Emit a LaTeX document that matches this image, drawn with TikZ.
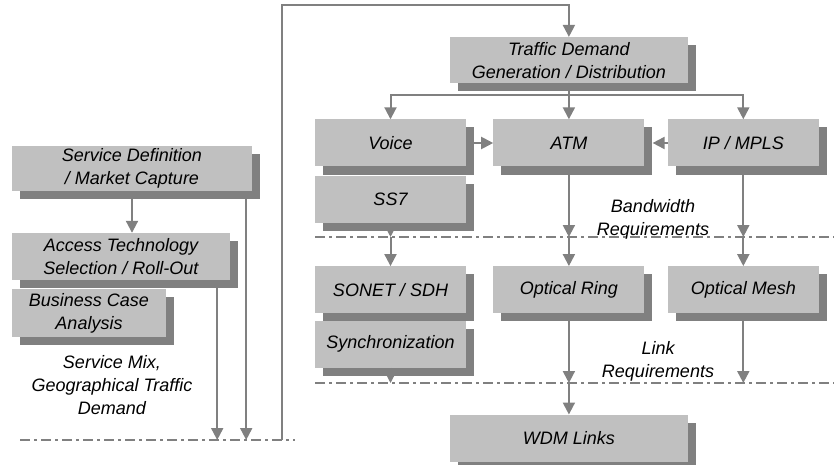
\documentclass[tikz,border=0pt]{standalone}
\usepackage{fontspec}
\setmainfont{Liberation Sans}
\usetikzlibrary{positioning, arrows.meta, shadows}
\definecolor{boxgray}{RGB}{192,192,192}
\definecolor{shadegray}{RGB}{128,128,128}
\definecolor{linegray}{RGB}{128,128,128}
\tikzset{
    >={Triangle[width=12pt, length=12pt]}, % wide flat arrow heads
    node distance=9pt and 27pt, % gaps inside a column / inside a row
    every node/.style={font=\itshape\fontsize{18}{23}\selectfont, align=center}, % all texts
    block/.style={fill=boxgray, minimum width=151pt, minimum height=47pt, inner sep=0pt,
        drop shadow={shadow xshift=8pt, shadow yshift=-8pt, fill=shadegray, opacity=1}}, % grey box with a hard shadow
    flow/.style={->, draw=linegray, line width=2pt}, % the arrows
    level/.style={draw=linegray, line width=1.4pt, dash pattern=on 10pt off 4pt on 3pt off 4pt}, % dash-dot borders
}
\begin{document}
\begin{tikzpicture}[x=1pt, y=-1pt
                  ]
                  \useasboundingbox (0,0) rectangle (834,465);
                  % left side
                  \node[block, minimum width=240pt, minimum height=45pt] (svcdef) at (132,168.5) {Service Definition\\ / Market Capture};
                  \node[block, minimum width=218pt] (access) at (121,256.5) {Access Technology\\ Selection / Roll-Out};
                  \node[block, minimum width=154pt, minimum height=48pt] (business) at (89,313) {Business Case\\ Analysis};
                  \node (mix) at (112,385) {Service Mix,\\ Geographical Traffic\\ Demand};
                  % right side
                  \node[block] (voice) at (390.5,143) {Voice};
                  \node[block, right=of voice] (atm) {ATM};
                  \node[block, right=23pt of atm] (ip) {IP / MPLS};
                  \node[block, below=of voice] (ss7) {SS7};
                  \node[block, above=36pt of atm, minimum width=238pt, minimum height=46pt] (traffic) {Traffic Demand\\ Generation / Distribution};
                  \node[block, below=43pt of ss7] (sonet) {SONET / SDH};
                  \node[block, below=7pt of sonet] (sync) {Synchronization};
                  \node[block, right=of sonet] (ring) {Optical Ring};
                  \node[block, right=23pt of ring] (mesh) {Optical Mesh};
                  \node[block, below=101pt of ring, minimum width=238pt] (wdm) {WDM Links};
                  \node (bwreq) at (653,219) {Bandwidth\\ Requirements};
                  \node (linkreq) at (658,361) {Link\\ Requirements};
                  % dash-dot borders
                  \coordinate (mixL) at (20,440);
                  \coordinate (mixR) at (295,440);
                  \coordinate (bwL) at (315,237);
                  \coordinate (bwR) at (834,237);
                  \coordinate (lkL) at (315,383);
                  \coordinate (lkR) at (834,383);
                  \draw[level] (mixL) -- (mixR);
                  \draw[level] (bwL) -- (bwR);
                  \draw[level] (lkL) -- (lkR);
                  % arrows
                  \coordinate (svcout) at ([xshift=-6pt]svcdef.south east);
                  \coordinate (accout) at ([xshift=-13pt]access.south east);
                  \coordinate (loop) at (282,440);
                  \coordinate (looptop) at (282,5);
                  \coordinate (split) at ([yshift=-12pt]traffic.south);
                  \draw[flow] (svcdef.south) -- (svcdef.south |- access.north);
                  \draw[flow] (svcout) -- (svcout |- mixL);
                  \draw[flow] (accout) -- (accout |- mixL);
                  \draw[flow] (loop) -- (looptop) -| (traffic.north);
                  \draw[flow] (traffic.south) -- (atm.north);
                  \draw[flow] (split) -| (voice.north);
                  \draw[flow] (split) -| (ip.north);
                  \draw[flow, shorten <=8pt] (voice.east) -- (atm.west);
                  \draw[flow, shorten >=8pt] (ip.west) -- (atm.east);
                  \foreach \a/\b in {ss7/sonet, atm/ring, ip/mesh} {
                      \draw[flow] (\a.south) -- (\a.south |- bwL);
                      \draw[flow] (\a.south |- bwL) -- (\b.north);
                  }
                  \foreach \a in {sync, ring, mesh}
                      \draw[flow] (\a.south) -- (\a.south |- lkL);
                  \draw[flow] (ring.south |- lkL) -- (wdm.north);
              \end{tikzpicture}
\end{document}
